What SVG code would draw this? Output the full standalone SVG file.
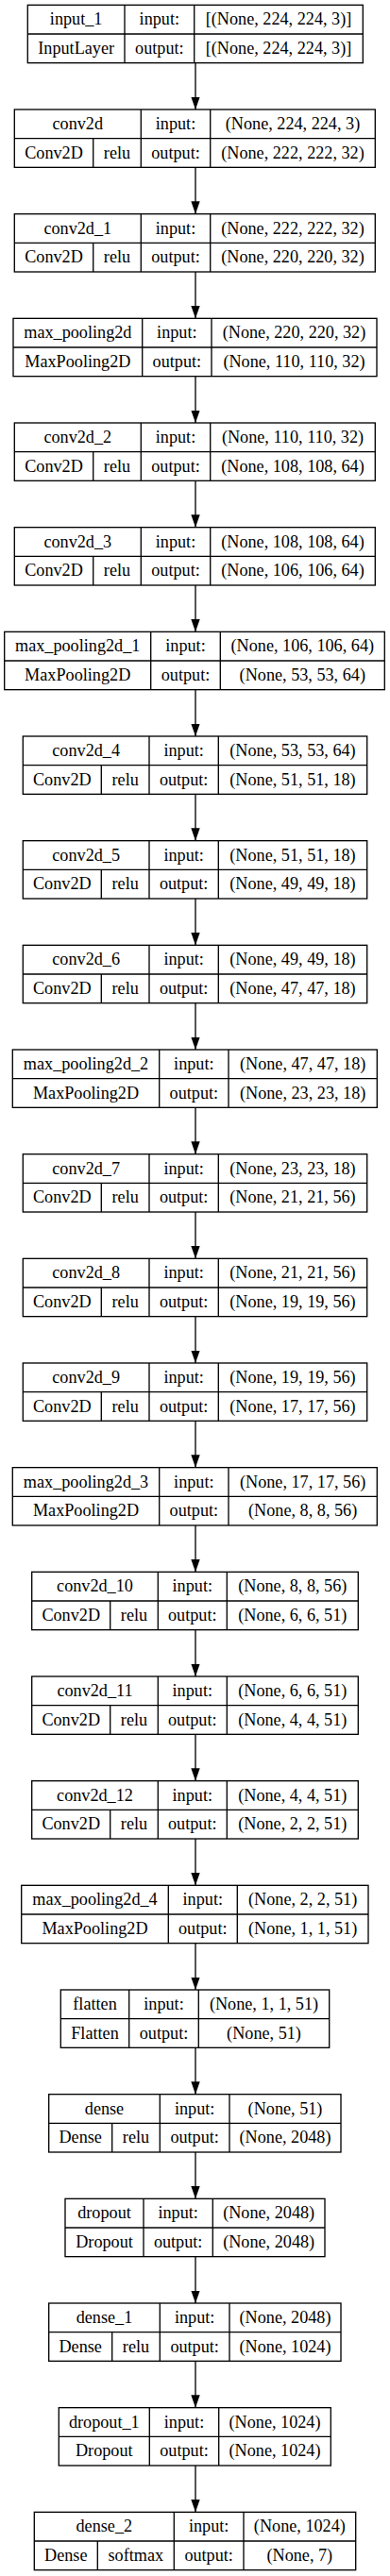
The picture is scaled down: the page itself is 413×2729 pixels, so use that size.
<svg xmlns="http://www.w3.org/2000/svg" width="413" height="2729" viewBox="0 0 413 2729">
<style>
rect.b{fill:#fff;stroke:#000;stroke-width:1.33}
line.d{stroke:#000;stroke-width:1.33}
text{font-family:"Liberation Serif","Times New Roman",serif;font-size:18.2px;text-anchor:middle;fill:#000}
.e line{stroke:#000;stroke-width:1.33}
</style>
<defs>
<marker id="ah" markerUnits="userSpaceOnUse" markerWidth="13.33" markerHeight="9.33" viewBox="0 0 13.33 9.33" refX="13.33" refY="4.67" orient="auto">
<path d="M0,0 L13.33,4.67 L0,9.33 z" fill="#000"/>
</marker>
</defs>
<rect width="413" height="2729" fill="#fff"/>
<g id="edges" class="e">
<line x1="207" y1="66.67" x2="207" y2="116" marker-end="url(#ah)"/>
<line x1="207" y1="177.33" x2="207" y2="226.67" marker-end="url(#ah)"/>
<line x1="207" y1="288" x2="207" y2="337.33" marker-end="url(#ah)"/>
<line x1="207" y1="398.67" x2="207" y2="448" marker-end="url(#ah)"/>
<line x1="207" y1="509.33" x2="207" y2="558.67" marker-end="url(#ah)"/>
<line x1="207" y1="620" x2="207" y2="669.33" marker-end="url(#ah)"/>
<line x1="207" y1="730.67" x2="207" y2="780" marker-end="url(#ah)"/>
<line x1="207" y1="841.33" x2="207" y2="890.67" marker-end="url(#ah)"/>
<line x1="207" y1="952" x2="207" y2="1001.33" marker-end="url(#ah)"/>
<line x1="207" y1="1062.67" x2="207" y2="1112" marker-end="url(#ah)"/>
<line x1="207" y1="1173.33" x2="207" y2="1222.67" marker-end="url(#ah)"/>
<line x1="207" y1="1284" x2="207" y2="1333.33" marker-end="url(#ah)"/>
<line x1="207" y1="1394.67" x2="207" y2="1444" marker-end="url(#ah)"/>
<line x1="207" y1="1505.33" x2="207" y2="1554.67" marker-end="url(#ah)"/>
<line x1="207" y1="1616" x2="207" y2="1665.33" marker-end="url(#ah)"/>
<line x1="207" y1="1726.67" x2="207" y2="1776" marker-end="url(#ah)"/>
<line x1="207" y1="1837.33" x2="207" y2="1886.67" marker-end="url(#ah)"/>
<line x1="207" y1="1948" x2="207" y2="1997.33" marker-end="url(#ah)"/>
<line x1="207" y1="2058.67" x2="207" y2="2108" marker-end="url(#ah)"/>
<line x1="207" y1="2169.33" x2="207" y2="2218.67" marker-end="url(#ah)"/>
<line x1="207" y1="2280" x2="207" y2="2329.33" marker-end="url(#ah)"/>
<line x1="207" y1="2390.67" x2="207" y2="2440" marker-end="url(#ah)"/>
<line x1="207" y1="2501.33" x2="207" y2="2550.67" marker-end="url(#ah)"/>
<line x1="207" y1="2612" x2="207" y2="2661.33" marker-end="url(#ah)"/>
</g>

<g id="input_1" transform="translate(0,5.33)">
<rect class="b" x="29.3" y="0" width="355" height="61.33"/>
<line class="d" x1="29.3" y1="30.67" x2="384.3" y2="30.67"/>
<line class="d" x1="132" y1="0" x2="132" y2="61.33"/>
<line class="d" x1="205.7" y1="0" x2="205.7" y2="61.33"/>
<text x="80.65" y="21">input_1</text><text x="168.85" y="21">input:</text><text x="295" y="21">[(None, 224, 224, 3)]</text>
<text x="80.65" y="51.7">InputLayer</text><text x="168.85" y="51.7">output:</text><text x="295" y="51.7">[(None, 224, 224, 3)]</text>
</g>

<g id="conv2d" transform="translate(0,116)">
<rect class="b" x="15.3" y="0" width="382" height="61.33"/>
<line class="d" x1="15.3" y1="30.67" x2="397.3" y2="30.67"/>
<line class="d" x1="98.7" y1="30.67" x2="98.7" y2="61.33"/>
<line class="d" x1="149.3" y1="0" x2="149.3" y2="61.33"/>
<line class="d" x1="222.7" y1="0" x2="222.7" y2="61.33"/>
<text x="82.3" y="21">conv2d</text><text x="186" y="21">input:</text><text x="310" y="21">(None, 224, 224, 3)</text>
<text x="57" y="51.7">Conv2D</text><text x="124" y="51.7">relu</text><text x="186" y="51.7">output:</text><text x="310" y="51.7">(None, 222, 222, 32)</text>
</g>

<g id="conv2d_1" transform="translate(0,226.67)">
<rect class="b" x="15.3" y="0" width="382" height="61.33"/>
<line class="d" x1="15.3" y1="30.67" x2="397.3" y2="30.67"/>
<line class="d" x1="98.7" y1="30.67" x2="98.7" y2="61.33"/>
<line class="d" x1="149.3" y1="0" x2="149.3" y2="61.33"/>
<line class="d" x1="222.7" y1="0" x2="222.7" y2="61.33"/>
<text x="82.3" y="21">conv2d_1</text><text x="186" y="21">input:</text><text x="310" y="21">(None, 222, 222, 32)</text>
<text x="57" y="51.7">Conv2D</text><text x="124" y="51.7">relu</text><text x="186" y="51.7">output:</text><text x="310" y="51.7">(None, 220, 220, 32)</text>
</g>

<g id="max_pooling2d" transform="translate(0,337.33)">
<rect class="b" x="14" y="0" width="385" height="61.33"/>
<line class="d" x1="14" y1="30.67" x2="399" y2="30.67"/>
<line class="d" x1="150.7" y1="0" x2="150.7" y2="61.33"/>
<line class="d" x1="224" y1="0" x2="224" y2="61.33"/>
<text x="82.35" y="21">max_pooling2d</text><text x="187.35" y="21">input:</text><text x="311.5" y="21">(None, 220, 220, 32)</text>
<text x="82.35" y="51.7">MaxPooling2D</text><text x="187.35" y="51.7">output:</text><text x="311.5" y="51.7">(None, 110, 110, 32)</text>
</g>

<g id="conv2d_2" transform="translate(0,448)">
<rect class="b" x="15.3" y="0" width="382" height="61.33"/>
<line class="d" x1="15.3" y1="30.67" x2="397.3" y2="30.67"/>
<line class="d" x1="98.7" y1="30.67" x2="98.7" y2="61.33"/>
<line class="d" x1="149.3" y1="0" x2="149.3" y2="61.33"/>
<line class="d" x1="222.7" y1="0" x2="222.7" y2="61.33"/>
<text x="82.3" y="21">conv2d_2</text><text x="186" y="21">input:</text><text x="310" y="21">(None, 110, 110, 32)</text>
<text x="57" y="51.7">Conv2D</text><text x="124" y="51.7">relu</text><text x="186" y="51.7">output:</text><text x="310" y="51.7">(None, 108, 108, 64)</text>
</g>

<g id="conv2d_3" transform="translate(0,558.67)">
<rect class="b" x="15.3" y="0" width="382" height="61.33"/>
<line class="d" x1="15.3" y1="30.67" x2="397.3" y2="30.67"/>
<line class="d" x1="98.7" y1="30.67" x2="98.7" y2="61.33"/>
<line class="d" x1="149.3" y1="0" x2="149.3" y2="61.33"/>
<line class="d" x1="222.7" y1="0" x2="222.7" y2="61.33"/>
<text x="82.3" y="21">conv2d_3</text><text x="186" y="21">input:</text><text x="310" y="21">(None, 108, 108, 64)</text>
<text x="57" y="51.7">Conv2D</text><text x="124" y="51.7">relu</text><text x="186" y="51.7">output:</text><text x="310" y="51.7">(None, 106, 106, 64)</text>
</g>

<g id="max_pooling2d_1" transform="translate(0,669.33)">
<rect class="b" x="4.7" y="0" width="402.6" height="61.33"/>
<line class="d" x1="4.7" y1="30.67" x2="407.3" y2="30.67"/>
<line class="d" x1="159.7" y1="0" x2="159.7" y2="61.33"/>
<line class="d" x1="233.3" y1="0" x2="233.3" y2="61.33"/>
<text x="82.2" y="21">max_pooling2d_1</text><text x="196.5" y="21">input:</text><text x="320.3" y="21">(None, 106, 106, 64)</text>
<text x="82.2" y="51.7">MaxPooling2D</text><text x="196.5" y="51.7">output:</text><text x="320.3" y="51.7">(None, 53, 53, 64)</text>
</g>

<g id="conv2d_4" transform="translate(0,780)">
<rect class="b" x="24.3" y="0" width="364.4" height="61.33"/>
<line class="d" x1="24.3" y1="30.67" x2="388.7" y2="30.67"/>
<line class="d" x1="107.3" y1="30.67" x2="107.3" y2="61.33"/>
<line class="d" x1="158" y1="0" x2="158" y2="61.33"/>
<line class="d" x1="231.3" y1="0" x2="231.3" y2="61.33"/>
<text x="91.15" y="21">conv2d_4</text><text x="194.65" y="21">input:</text><text x="310" y="21">(None, 53, 53, 64)</text>
<text x="65.8" y="51.7">Conv2D</text><text x="132.65" y="51.7">relu</text><text x="194.65" y="51.7">output:</text><text x="310" y="51.7">(None, 51, 51, 18)</text>
</g>

<g id="conv2d_5" transform="translate(0,890.67)">
<rect class="b" x="24.3" y="0" width="364.4" height="61.33"/>
<line class="d" x1="24.3" y1="30.67" x2="388.7" y2="30.67"/>
<line class="d" x1="107.3" y1="30.67" x2="107.3" y2="61.33"/>
<line class="d" x1="158" y1="0" x2="158" y2="61.33"/>
<line class="d" x1="231.3" y1="0" x2="231.3" y2="61.33"/>
<text x="91.15" y="21">conv2d_5</text><text x="194.65" y="21">input:</text><text x="310" y="21">(None, 51, 51, 18)</text>
<text x="65.8" y="51.7">Conv2D</text><text x="132.65" y="51.7">relu</text><text x="194.65" y="51.7">output:</text><text x="310" y="51.7">(None, 49, 49, 18)</text>
</g>

<g id="conv2d_6" transform="translate(0,1001.33)">
<rect class="b" x="24.3" y="0" width="364.4" height="61.33"/>
<line class="d" x1="24.3" y1="30.67" x2="388.7" y2="30.67"/>
<line class="d" x1="107.3" y1="30.67" x2="107.3" y2="61.33"/>
<line class="d" x1="158" y1="0" x2="158" y2="61.33"/>
<line class="d" x1="231.3" y1="0" x2="231.3" y2="61.33"/>
<text x="91.15" y="21">conv2d_6</text><text x="194.65" y="21">input:</text><text x="310" y="21">(None, 49, 49, 18)</text>
<text x="65.8" y="51.7">Conv2D</text><text x="132.65" y="51.7">relu</text><text x="194.65" y="51.7">output:</text><text x="310" y="51.7">(None, 47, 47, 18)</text>
</g>

<g id="max_pooling2d_2" transform="translate(0,1112)">
<rect class="b" x="13.3" y="0" width="386" height="61.33"/>
<line class="d" x1="13.3" y1="30.67" x2="399.3" y2="30.67"/>
<line class="d" x1="168.7" y1="0" x2="168.7" y2="61.33"/>
<line class="d" x1="242" y1="0" x2="242" y2="61.33"/>
<text x="91" y="21">max_pooling2d_2</text><text x="205.35" y="21">input:</text><text x="320.65" y="21">(None, 47, 47, 18)</text>
<text x="91" y="51.7">MaxPooling2D</text><text x="205.35" y="51.7">output:</text><text x="320.65" y="51.7">(None, 23, 23, 18)</text>
</g>

<g id="conv2d_7" transform="translate(0,1222.67)">
<rect class="b" x="24.3" y="0" width="364.4" height="61.33"/>
<line class="d" x1="24.3" y1="30.67" x2="388.7" y2="30.67"/>
<line class="d" x1="107.3" y1="30.67" x2="107.3" y2="61.33"/>
<line class="d" x1="158" y1="0" x2="158" y2="61.33"/>
<line class="d" x1="231.3" y1="0" x2="231.3" y2="61.33"/>
<text x="91.15" y="21">conv2d_7</text><text x="194.65" y="21">input:</text><text x="310" y="21">(None, 23, 23, 18)</text>
<text x="65.8" y="51.7">Conv2D</text><text x="132.65" y="51.7">relu</text><text x="194.65" y="51.7">output:</text><text x="310" y="51.7">(None, 21, 21, 56)</text>
</g>

<g id="conv2d_8" transform="translate(0,1333.33)">
<rect class="b" x="24.3" y="0" width="364.4" height="61.33"/>
<line class="d" x1="24.3" y1="30.67" x2="388.7" y2="30.67"/>
<line class="d" x1="107.3" y1="30.67" x2="107.3" y2="61.33"/>
<line class="d" x1="158" y1="0" x2="158" y2="61.33"/>
<line class="d" x1="231.3" y1="0" x2="231.3" y2="61.33"/>
<text x="91.15" y="21">conv2d_8</text><text x="194.65" y="21">input:</text><text x="310" y="21">(None, 21, 21, 56)</text>
<text x="65.8" y="51.7">Conv2D</text><text x="132.65" y="51.7">relu</text><text x="194.65" y="51.7">output:</text><text x="310" y="51.7">(None, 19, 19, 56)</text>
</g>

<g id="conv2d_9" transform="translate(0,1444)">
<rect class="b" x="24.3" y="0" width="364.4" height="61.33"/>
<line class="d" x1="24.3" y1="30.67" x2="388.7" y2="30.67"/>
<line class="d" x1="107.3" y1="30.67" x2="107.3" y2="61.33"/>
<line class="d" x1="158" y1="0" x2="158" y2="61.33"/>
<line class="d" x1="231.3" y1="0" x2="231.3" y2="61.33"/>
<text x="91.15" y="21">conv2d_9</text><text x="194.65" y="21">input:</text><text x="310" y="21">(None, 19, 19, 56)</text>
<text x="65.8" y="51.7">Conv2D</text><text x="132.65" y="51.7">relu</text><text x="194.65" y="51.7">output:</text><text x="310" y="51.7">(None, 17, 17, 56)</text>
</g>

<g id="max_pooling2d_3" transform="translate(0,1554.67)">
<rect class="b" x="13.3" y="0" width="386" height="61.33"/>
<line class="d" x1="13.3" y1="30.67" x2="399.3" y2="30.67"/>
<line class="d" x1="168.7" y1="0" x2="168.7" y2="61.33"/>
<line class="d" x1="242" y1="0" x2="242" y2="61.33"/>
<text x="91" y="21">max_pooling2d_3</text><text x="205.35" y="21">input:</text><text x="320.65" y="21">(None, 17, 17, 56)</text>
<text x="91" y="51.7">MaxPooling2D</text><text x="205.35" y="51.7">output:</text><text x="320.65" y="51.7">(None, 8, 8, 56)</text>
</g>

<g id="conv2d_10" transform="translate(0,1665.33)">
<rect class="b" x="33.7" y="0" width="345.6" height="61.33"/>
<line class="d" x1="33.7" y1="30.67" x2="379.3" y2="30.67"/>
<line class="d" x1="116.7" y1="30.67" x2="116.7" y2="61.33"/>
<line class="d" x1="167.3" y1="0" x2="167.3" y2="61.33"/>
<line class="d" x1="240.3" y1="0" x2="240.3" y2="61.33"/>
<text x="100.5" y="21">conv2d_10</text><text x="203.8" y="21">input:</text><text x="309.8" y="21">(None, 8, 8, 56)</text>
<text x="75.2" y="51.7">Conv2D</text><text x="142" y="51.7">relu</text><text x="203.8" y="51.7">output:</text><text x="309.8" y="51.7">(None, 6, 6, 51)</text>
</g>

<g id="conv2d_11" transform="translate(0,1776)">
<rect class="b" x="33.7" y="0" width="345.6" height="61.33"/>
<line class="d" x1="33.7" y1="30.67" x2="379.3" y2="30.67"/>
<line class="d" x1="116.7" y1="30.67" x2="116.7" y2="61.33"/>
<line class="d" x1="167.3" y1="0" x2="167.3" y2="61.33"/>
<line class="d" x1="240.3" y1="0" x2="240.3" y2="61.33"/>
<text x="100.5" y="21">conv2d_11</text><text x="203.8" y="21">input:</text><text x="309.8" y="21">(None, 6, 6, 51)</text>
<text x="75.2" y="51.7">Conv2D</text><text x="142" y="51.7">relu</text><text x="203.8" y="51.7">output:</text><text x="309.8" y="51.7">(None, 4, 4, 51)</text>
</g>

<g id="conv2d_12" transform="translate(0,1886.67)">
<rect class="b" x="33.7" y="0" width="345.6" height="61.33"/>
<line class="d" x1="33.7" y1="30.67" x2="379.3" y2="30.67"/>
<line class="d" x1="116.7" y1="30.67" x2="116.7" y2="61.33"/>
<line class="d" x1="167.3" y1="0" x2="167.3" y2="61.33"/>
<line class="d" x1="240.3" y1="0" x2="240.3" y2="61.33"/>
<text x="100.5" y="21">conv2d_12</text><text x="203.8" y="21">input:</text><text x="309.8" y="21">(None, 4, 4, 51)</text>
<text x="75.2" y="51.7">Conv2D</text><text x="142" y="51.7">relu</text><text x="203.8" y="51.7">output:</text><text x="309.8" y="51.7">(None, 2, 2, 51)</text>
</g>

<g id="max_pooling2d_4" transform="translate(0,1997.33)">
<rect class="b" x="22.7" y="0" width="367.3" height="61.33"/>
<line class="d" x1="22.7" y1="30.67" x2="390" y2="30.67"/>
<line class="d" x1="178.3" y1="0" x2="178.3" y2="61.33"/>
<line class="d" x1="251.3" y1="0" x2="251.3" y2="61.33"/>
<text x="100.5" y="21">max_pooling2d_4</text><text x="214.8" y="21">input:</text><text x="320.65" y="21">(None, 2, 2, 51)</text>
<text x="100.5" y="51.7">MaxPooling2D</text><text x="214.8" y="51.7">output:</text><text x="320.65" y="51.7">(None, 1, 1, 51)</text>
</g>

<g id="flatten" transform="translate(0,2108)">
<rect class="b" x="64.3" y="0" width="284.4" height="61.33"/>
<line class="d" x1="64.3" y1="30.67" x2="348.7" y2="30.67"/>
<line class="d" x1="136.7" y1="0" x2="136.7" y2="61.33"/>
<line class="d" x1="210.3" y1="0" x2="210.3" y2="61.33"/>
<text x="100.5" y="21">flatten</text><text x="173.5" y="21">input:</text><text x="279.5" y="21">(None, 1, 1, 51)</text>
<text x="100.5" y="51.7">Flatten</text><text x="173.5" y="51.7">output:</text><text x="279.5" y="51.7">(None, 51)</text>
</g>

<g id="dense" transform="translate(0,2218.67)">
<rect class="b" x="51.7" y="0" width="309.3" height="61.33"/>
<line class="d" x1="51.7" y1="30.67" x2="361" y2="30.67"/>
<line class="d" x1="118.7" y1="30.67" x2="118.7" y2="61.33"/>
<line class="d" x1="169.3" y1="0" x2="169.3" y2="61.33"/>
<line class="d" x1="243" y1="0" x2="243" y2="61.33"/>
<text x="110.5" y="21">dense</text><text x="206.15" y="21">input:</text><text x="302" y="21">(None, 51)</text>
<text x="85.2" y="51.7">Dense</text><text x="144" y="51.7">relu</text><text x="206.15" y="51.7">output:</text><text x="302" y="51.7">(None, 2048)</text>
</g>

<g id="dropout" transform="translate(0,2329.33)">
<rect class="b" x="69" y="0" width="275" height="61.33"/>
<line class="d" x1="69" y1="30.67" x2="344" y2="30.67"/>
<line class="d" x1="152" y1="0" x2="152" y2="61.33"/>
<line class="d" x1="225.3" y1="0" x2="225.3" y2="61.33"/>
<text x="110.5" y="21">dropout</text><text x="188.65" y="21">input:</text><text x="284.65" y="21">(None, 2048)</text>
<text x="110.5" y="51.7">Dropout</text><text x="188.65" y="51.7">output:</text><text x="284.65" y="51.7">(None, 2048)</text>
</g>

<g id="dense_1" transform="translate(0,2440)">
<rect class="b" x="51.7" y="0" width="309.3" height="61.33"/>
<line class="d" x1="51.7" y1="30.67" x2="361" y2="30.67"/>
<line class="d" x1="118.7" y1="30.67" x2="118.7" y2="61.33"/>
<line class="d" x1="169.3" y1="0" x2="169.3" y2="61.33"/>
<line class="d" x1="243" y1="0" x2="243" y2="61.33"/>
<text x="110.5" y="21">dense_1</text><text x="206.15" y="21">input:</text><text x="302" y="21">(None, 2048)</text>
<text x="85.2" y="51.7">Dense</text><text x="144" y="51.7">relu</text><text x="206.15" y="51.7">output:</text><text x="302" y="51.7">(None, 1024)</text>
</g>

<g id="dropout_1" transform="translate(0,2550.67)">
<rect class="b" x="62.3" y="0" width="288" height="61.33"/>
<line class="d" x1="62.3" y1="30.67" x2="350.3" y2="30.67"/>
<line class="d" x1="158.3" y1="0" x2="158.3" y2="61.33"/>
<line class="d" x1="231.7" y1="0" x2="231.7" y2="61.33"/>
<text x="110.3" y="21">dropout_1</text><text x="195" y="21">input:</text><text x="291" y="21">(None, 1024)</text>
<text x="110.3" y="51.7">Dropout</text><text x="195" y="51.7">output:</text><text x="291" y="51.7">(None, 1024)</text>
</g>

<g id="dense_2" transform="translate(0,2661.33)">
<rect class="b" x="36.3" y="0" width="340.4" height="61.33"/>
<line class="d" x1="36.3" y1="30.67" x2="376.7" y2="30.67"/>
<line class="d" x1="103.3" y1="30.67" x2="103.3" y2="61.33"/>
<line class="d" x1="184.3" y1="0" x2="184.3" y2="61.33"/>
<line class="d" x1="258" y1="0" x2="258" y2="61.33"/>
<text x="110.3" y="21">dense_2</text><text x="221.15" y="21">input:</text><text x="317.35" y="21">(None, 1024)</text>
<text x="69.8" y="51.7">Dense</text><text x="143.8" y="51.7">softmax</text><text x="221.15" y="51.7">output:</text><text x="317.35" y="51.7">(None, 7)</text>
</g>
</svg>
